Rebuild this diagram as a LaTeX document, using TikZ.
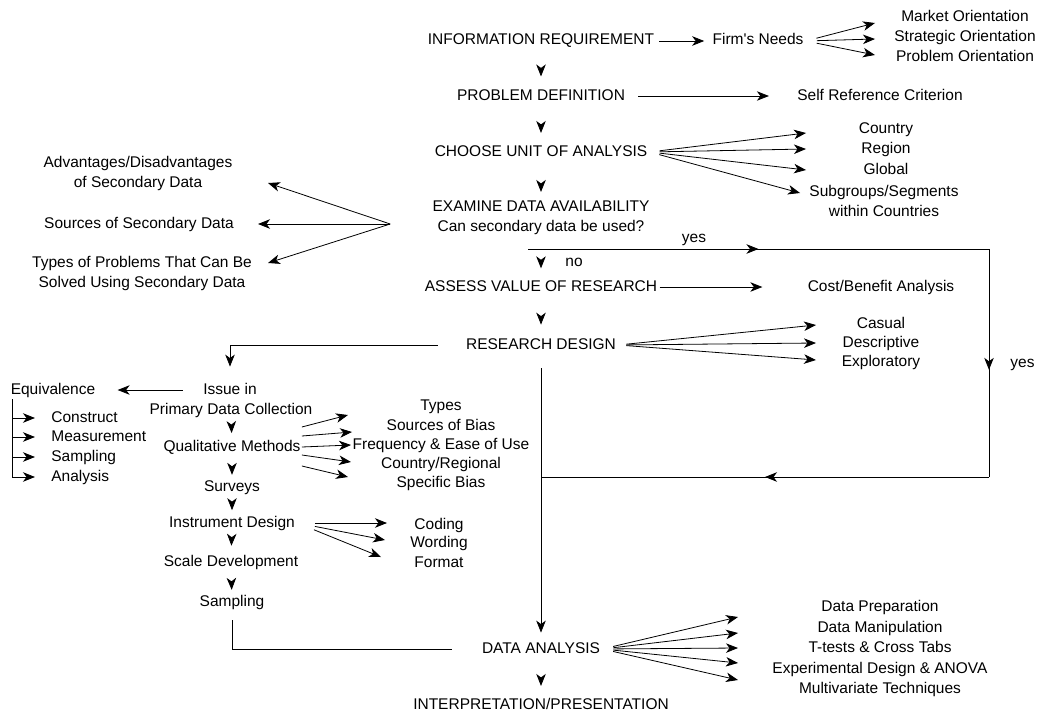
\documentclass[tikz,border=0pt]{standalone}
\usepackage{fontspec}
\setmainfont{Liberation Sans}
\usetikzlibrary{arrows.meta, calc, decorations.markings}

\tikzset{
  lbl/.style={inner sep=2pt, text height=11pt, text depth=3pt},
  lbltwo/.style={inner sep=2pt, align=center},
  arr/.style={-{Stealth[length=12pt, width=9.5pt, inset=3.5pt]}},
  tipat/.style={postaction={decorate}, decoration={markings,
      mark=at position #1 with {\arrow{Stealth[length=12pt, width=9.5pt, inset=3.5pt]}}}},
}

\begin{document}
\begin{tikzpicture}[x=1pt, y=-1pt, line width=0.8pt, font=\fontsize{15.5}{20}\selectfont]
\useasboundingbox (0,0) rectangle (1039,717);

% main column
\node[lbl] (info) at (541,41) {INFORMATION REQUIREMENT};
\node[lbl] (probdef) at (541,96) {PROBLEM DEFINITION};
\node[lbl] (unit) at (541,152) {CHOOSE UNIT OF ANALYSIS};
\node[lbltwo] (exam) at (541,218) {EXAMINE DATA AVAILABILITY\\Can secondary data be used?};
\node[lbl] (assess) at (541,287) {ASSESS VALUE OF RESEARCH};
\node[lbl] (rd) at (541,345) {RESEARCH DESIGN};
\node[lbl] (da) at (541,649) {DATA ANALYSIS};
\node[lbl] (interp) at (541,705) {INTERPRETATION/PRESENTATION};

% right side
\node[lbl] (firm) at (758,41) {Firm\textquotesingle s Needs};
\node[lbl] (market) at (965,18) {Market Orientation};
\node[lbl] (strategic) at (965,38) {Strategic Orientation};
\node[lbl] (problem) at (965,58) {Problem Orientation};
\node[lbl] (selfref) at (880,96) {Self Reference Criterion};
\node[lbl] (country) at (886,129) {Country};
\node[lbl] (region) at (886,149) {Region};
\node[lbl] (global) at (886,170) {Global};
\node[lbltwo] (subgroups) at (884,201) {Subgroups/Segments\\within Countries};
\node[lbl] (cost) at (881,287) {Cost/Benefit Analysis};
\node[lbl] (casual) at (881,324) {Casual};
\node[lbl] (descr) at (881,343) {Descriptive};
\node[lbl] (explor) at (881,362) {Exploratory};
\node[lbl] (prep) at (880,607) {Data Preparation};
\node[lbl] (manip) at (880,628) {Data Manipulation};
\node[lbl] (ttests) at (880,648) {T-tests \& Cross Tabs};
\node[lbl] (exper) at (880,669) {Experimental Design \& ANOVA};
\node[lbl] (multi) at (880,689) {Multivariate Techniques};

% left side
\node[lbltwo] (adv) at (138,173) {Advantages/Disadvantages\\of Secondary Data};
\node[lbl] (sources) at (139,224) {Sources of Secondary Data};
\node[lbltwo] (types) at (142,273) {Types of Problems That Can Be\\Solved Using Secondary Data};
\node[lbl] (equiv) at (53,390) {Equivalence};
\node[lbl, anchor=west] (construct) at (49,418) {Construct};
\node[lbl, anchor=west] (measure) at (49,437) {Measurement};
\node[lbl, anchor=west] (sampl) at (49,457) {Sampling};
\node[lbl, anchor=west] (analysis) at (49,477) {Analysis};
\node[lbl] (issue) at (230,390) {Issue in};
\node[lbl] (primary) at (231,410) {Primary Data Collection};
\node[lbl] (qual) at (232,447) {Qualitative Methods};
\node[lbl] (surveys) at (232,487) {Surveys};
\node[lbl] (instr) at (232,523) {Instrument Design};
\node[lbl] (scale) at (231,562) {Scale Development};
\node[lbl] (sampling) at (232,602) {Sampling};
\node[lbl] (btypes) at (441,406) {Types};
\node[lbl] (bsources) at (441,426) {Sources of Bias};
\node[lbl] (freq) at (441,445) {Frequency \& Ease of Use};
\node[lbl] (cregion) at (441,464) {Country/Regional};
\node[lbl] (specific) at (441,483) {Specific Bias};
\node[lbl] (coding) at (439,525) {Coding};
\node[lbl] (wording) at (439,543) {Wording};
\node[lbl] (format) at (439,563) {Format};

% top rows
\draw[arr, shorten <=3pt, shorten >=6pt] (info) -- (firm);
\coordinate (firmtip) at (875,0);
\foreach \n/\dy in {market/5, strategic/1, problem/-3}
  \draw[arr, shorten <=11pt] (firm.east) -- ($(firmtip |- \n)+(0,\dy)$);
\draw[arr, shorten <=11pt, shorten >=26pt] (probdef) -- (selfref);
\coordinate (unittip) at (806,0);
\foreach \n/\dx/\dy in {country/0/4, region/0/0, global/0/0, subgroups/-6/-8}
  \draw[arr, shorten <=10pt] (unit.east) -- ($(unittip |- \n)+(\dx,\dy)$);
\coordinate (examfan) at ($(exam.west)+(-40,6)$);
\coordinate (lefttip) at (265,0);
\foreach \n/\dx/\dy in {adv/3/10, sources/-7/0, types/3/-10}
  \draw[arr] (examfan) -- ($(lefttip |- \n)+(\dx,\dy)$);

% yes branch
\coordinate (yesstart) at (528,249);
\coordinate (yesne) at (989,249);
\coordinate (yesse) at (989,477);
\coordinate (yesjoin) at (541,477);
\draw[tipat=0.5] (yesstart) -- node[lbl, pos=0.36, above=1pt] (yes1) {yes} (yesne);
\draw[tipat=0.53] (yesne) -- node[lbl, right=19pt] (yes2) {yes} (yesse);
\draw[tipat=0.5] (yesse) -- (yesjoin);

\draw[arr, shorten >=43pt] (assess) -- (cost);
\coordinate (rdtip) at (816,0);
\foreach \n/\dy in {casual/1, descr/0, explor/-2}
  \draw[arr, shorten <=8pt] (rd.east) -- ($(rdtip |- \n)+(0,\dy)$);
\draw[arr, shorten <=26pt, shorten >=14pt] (rd.west) -| (issue.north);
\draw[arr, shorten <=14pt, shorten >=7pt] (rd) -- (da);

% primary data collection
\draw[arr, shorten <=18pt, shorten >=20pt] (issue) -- (equiv);
\foreach \n in {construct, measure, sampl, analysis}
  \draw[arr, shorten >=14pt] ([xshift=4pt]equiv.south west) |- (\n.west);
\coordinate (biastip) at (350,0);
\foreach \n/\sy/\dx/\dy in {btypes/-20/-2/9, bsources/-11/2/6, freq/0/1/0, cregion/8/1/-2, specific/19/-2/-6}
  \draw[arr] ($(qual.east)+(-1,\sy)$) -- ($(biastip |- \n)+(\dx,\dy)$);
\coordinate (instrtip) at (386,0);
\foreach \n/\dx/\dy in {coding/1/-2, wording/-1/-3, format/-5/-6}
  \draw[arr, shorten <=18pt] (instr.east) -- ($(instrtip |- \n)+(\dx,\dy)$);
\draw[shorten <=9pt, shorten >=28pt] (sampling.south) |- (da.west);

% data analysis
\coordinate (datip) at (738,0);
\foreach \n/\dy in {prep/10, manip/5, ttests/0, exper/-6, multi/-9}
  \draw[arr, shorten <=11pt] (da.east) -- ($(datip |- \n)+(0,\dy)$);

% step arrowheads
\path[tipat=0.72] (info) -- (probdef);
\path[tipat=0.74] (probdef) -- (unit);
\path[tipat=0.82] (unit) -- (exam);
\path[tipat=0.77] (exam) -- node[lbl, pos=0.62, right=22pt] (no) {no} (assess);
\path[tipat=0.72] (assess) -- (rd);
\path[tipat=0.75] (primary) -- (qual);
\path[tipat=0.87] (qual) -- (surveys);
\path[tipat=0.8] (surveys) -- (instr);
\path[tipat=0.66] (instr) -- (scale);
\path[tipat=0.87] (scale) -- (sampling);
\path[tipat=0.74] (da) -- (interp);
\end{tikzpicture}
\end{document}
